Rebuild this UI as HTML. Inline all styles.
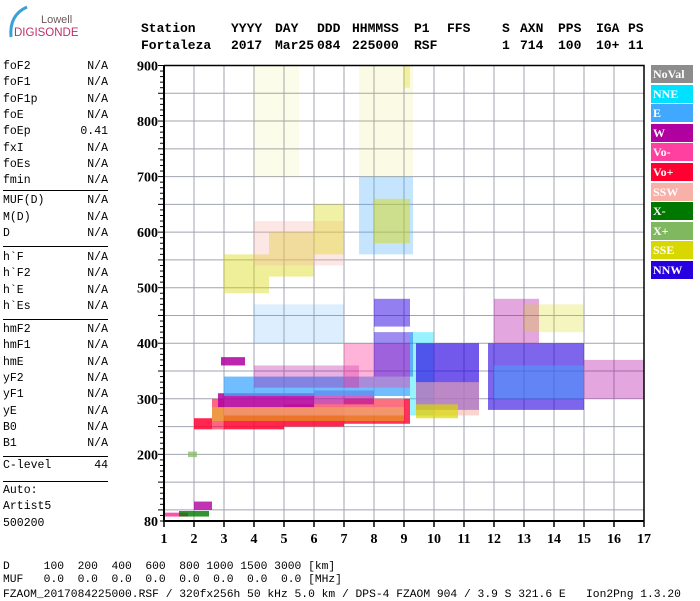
<!DOCTYPE html>
<html><head><meta charset="utf-8"><style>
body{margin:0;background:#fff;width:700px;height:600px;overflow:hidden;position:relative;font-family:"Liberation Mono",monospace}
.hd{font:bold 13px "Liberation Mono",monospace;position:absolute;white-space:pre}
.lp{position:absolute;left:3px;width:105px;font:11.5px "Liberation Mono",monospace;height:16px}
.lp span{position:absolute;right:0}
.sep{position:absolute;left:3px;width:105px;height:1px;background:#000}
.lg{position:absolute;left:651px;width:42px;height:18px;color:#fff;font:bold 12px "Liberation Serif",serif;line-height:18px;padding-left:2px;box-sizing:border-box}
.bt{position:absolute;left:3px;font:11.3px "Liberation Mono",monospace;white-space:pre}
</style></head><body>
<div style="position:absolute;left:3px;top:3px;width:80px;height:40px">
<svg width="80" height="40"><path d="M8 34 Q6 12 24 4" stroke="#3aa0d8" stroke-width="3" fill="none"/><text x="38" y="20" font-family="Liberation Sans" font-size="11" fill="#6a5a5a">Lowell</text><text x="11" y="33" font-family="Liberation Sans" font-size="11.5" fill="#c0306a">DIGISONDE</text></svg></div>
<div id="hdr"></div>
<div id="left"></div>
<svg id="chart" width="700" height="560" style="position:absolute;left:0;top:0"></svg>
<div id="legend"></div>
<div class="bt" style="top:561px">D     100  200  400  600  800 1000 1500 3000 [km]</div>
<div class="bt" style="top:574px">MUF   0.0  0.0  0.0  0.0  0.0  0.0  0.0  0.0 [MHz]</div>
<div class="bt" style="top:589px">FZAOM_2017084225000.RSF / 320fx256h 50 kHz 5.0 km / DPS-4 FZAOM 904 / 3.9 S 321.6 E   Ion2Png 1.3.20</div>
<script>
const xTicks=[1,2,3,4,5,6,7,8,9,10,11,12,13,14,15,16,17];
const yTicks=[80,200,300,400,500,600,700,800,900];
const legendNames=['NoVal','NNE','E','W','Vo-','Vo+','SSW','X-','X+','SSE','NNW'];
const legendColors=['#8c8c8c','#00e0ff','#40a8ff','#b000a0','#ff40a0','#ff0030','#f8b0a8','#007800','#80b860','#d8d800','#2800e0'];
const blobF0=[1.0,1.5,2.0,1.8,2,2.6,3,5,7,2.6,3,2.8,6,3,2.9,4,7,8,4,8,9.2,9.4,9.4,9.4,11.8,12,15,12,13,3,4.5,4,6,7.5,8,4,7.5,9.0];
const blobF1=[1.8,2.5,2.6,2.1,2.6,3,5,7,9.2,9,9,6,8,9.2,3.7,7.5,9.2,9.3,7,9.2,10,11.5,11.5,10.8,15,15,17,13.5,15,4.5,6,7,7,9.3,9.2,5.5,9.3,9.2];
const blobH0=[88,88,100,195,245,245,245,250,255,260,270,285,290,305,360,320,320,340,400,430,270,280,270,265,280,300,300,400,420,490,520,540,560,560,580,700,700,860];
const blobH1=[95,98,115,205,265,300,285,290,300,285,300,310,315,340,375,360,400,420,470,480,420,400,330,290,400,360,370,480,470,560,600,620,650,700,660,900,900,900];
const blobC=['Vo-','X-','W','X+','Vo+','Vo+','Vo+','Vo+','Vo+','SSE','SSW','W','W','E','W','W','Vo-','NNW','E','NNW','NNE','NNW','SSW','SSE','NNW','E','W','W','SSE','SSE','SSE','SSW','SSE','E','SSE','SSE','SSE','SSE'];
const blobA=[0.9,0.8,0.8,0.7,0.85,0.6,0.85,0.85,0.8,0.45,0.5,0.85,0.6,0.75,0.85,0.3,0.4,0.45,0.18,0.5,0.4,0.65,0.55,0.7,0.6,0.45,0.35,0.35,0.25,0.4,0.4,0.3,0.35,0.3,0.45,0.08,0.1,0.3];
const X=f=>164+(f-1)*30, Y=h=>521-(h-80)*0.5555;
const NS='http://www.w3.org/2000/svg';
const svg=document.getElementById('chart');
function mk(t,a){const e=document.createElementNS(NS,t);for(const k in a)e.setAttribute(k,a[k]);svg.appendChild(e);return e;}
for(let h=100;h<=850;h+=50){const g=mk('line',{x1:X(1),x2:X(17),y1:Y(h),y2:Y(h),stroke:'#a0a4b0','stroke-width':1});

}
for(let f=2;f<=16;f++){const g=mk('line',{x1:X(f),x2:X(f),y1:Y(900),y2:Y(80),stroke:'#a0a4b0','stroke-width':1});

}
const cmap={};legendNames.forEach((n,i)=>cmap[n]=legendColors[i]);
for(let i=0;i<blobF0.length;i++){const r=mk('rect',{x:X(blobF0[i]),y:Y(blobH1[i]),width:X(blobF1[i])-X(blobF0[i]),height:Y(blobH0[i])-Y(blobH1[i]),fill:cmap[blobC[i]],'fill-opacity':blobA[i]});

}
const fr=mk('polyline',{points:`${X(1)},${Y(900)} ${X(17)},${Y(900)} ${X(17)},${Y(80)}`,fill:'none',stroke:'#000','stroke-width':1.5});


const ya=mk('line',{x1:X(1),x2:X(1),y1:Y(900),y2:Y(80)+1,stroke:'#000','stroke-width':2});


const xa=mk('line',{x1:X(1),x2:X(17),y1:Y(80),y2:Y(80),stroke:'#000','stroke-width':2});


for(let h=80;h<=900;h+=10){const len=(h%50==0)?6:4;const t=mk('line',{x1:X(1)-len,x2:X(1),y1:Y(h),y2:Y(h),stroke:'#000','stroke-width':1});

}
yTicks.forEach(h=>{const t=mk('text',{x:X(1)-6,y:Y(h)+5,'text-anchor':'end','font-family':'Liberation Serif','font-weight':'bold','font-size':14});t.textContent=h;

});
xTicks.forEach(f=>{const l=mk('line',{x1:X(f),x2:X(f),y1:Y(80),y2:Y(80)+6,stroke:'#000','stroke-width':1.5});


const t=mk('text',{x:X(f),y:543,'text-anchor':'middle','font-family':'Liberation Serif','font-weight':'bold','font-size':14});t.textContent=f;

});
const lg=document.getElementById('legend');
legendNames.forEach((n,i)=>{const d=document.createElement('div');d.className='lg';d.style.top=(65+i*19.6)+'px';d.style.background=legendColors[i];d.textContent=n;


lg.appendChild(d);});
const hdr=document.getElementById('hdr');
const h1=[['Station',141],['YYYY',231],['DAY',275],['DDD',317],['HHMMSS',352],['P1',414],['FFS',447],['S',502],['AXN',520],['PPS',558],['IGA',596],['PS',628]];
const h2=[['Fortaleza',141],['2017',231],['Mar25',275],['084',317],['225000',352],['RSF',414],['1',502],['714',520],['100',558],['10+',596],['11',628]];
[[h1,21],[h2,38]].forEach(([row,top])=>row.forEach(([s,x])=>{const d=document.createElement('div');d.className='hd';d.style.left=x+'px';d.style.top=top+'px';d.textContent=s;


hdr.appendChild(d);}));
const left=document.getElementById('left');
const rows=[['foF2','N/A',60],['foF1','N/A',76.3],['foF1p','N/A',92.6],['foE','N/A',109],['foEp','0.41',125.3],['fxI','N/A',141.6],['foEs','N/A',158],['fmin','N/A',174.3],
['MUF(D)','N/A',194],['M(D)','N/A',210.5],['D','N/A',227],
['h`F','N/A',251],['h`F2','N/A',267.3],['h`E','N/A',283.6],['h`Es','N/A',300],
['hmF2','N/A',323],['hmF1','N/A',339.3],['hmE','N/A',355.6],['yF2','N/A',372],['yF1','N/A',388.3],['yE','N/A',404.6],['B0','N/A',421],['B1','N/A',437.3],
['C-level','44',459],['Auto:','',484],['Artist5','',500.3],['500200','',516.6]];
rows.forEach(([a,b,t])=>{const d=document.createElement('div');d.className='lp';d.style.top=t+'px';d.innerHTML=a+'<span>'+b+'</span>';


left.appendChild(d);});
[190,246,319,456,481].forEach(t=>{const d=document.createElement('div');d.className='sep';d.style.top=t+'px';


left.appendChild(d);});
</script>
</body></html>
